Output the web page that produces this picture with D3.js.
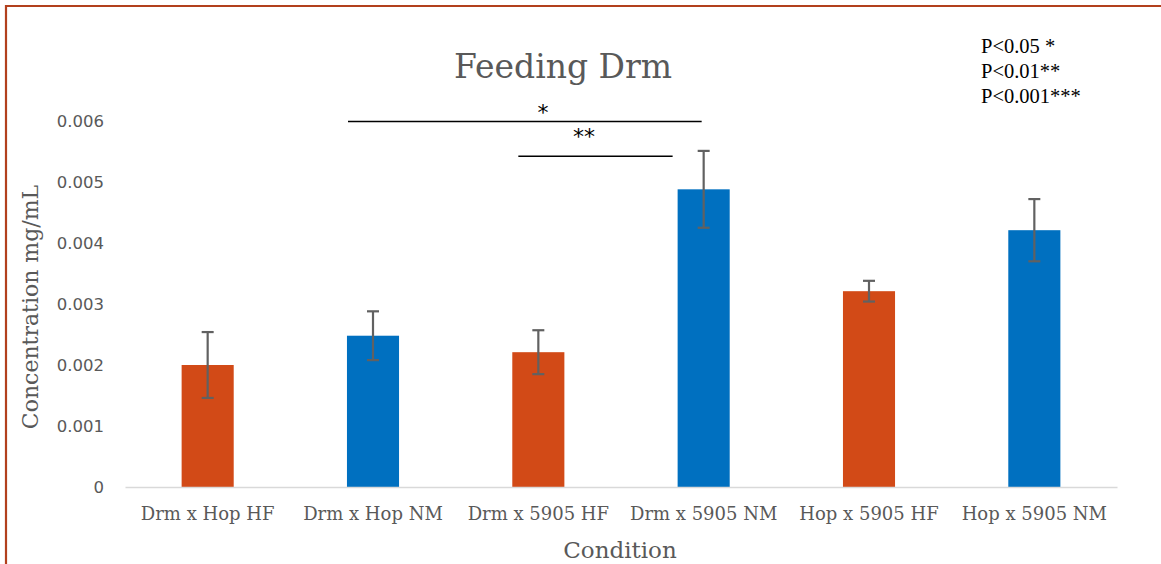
<!DOCTYPE html>
<html>
<head>
<meta charset="utf-8">
<script src="https://cdn.jsdelivr.net/npm/d3@7/dist/d3.min.js"></script>
<style>
  html, body { margin: 0; padding: 0; background: #fff; }
  svg { display: block; }
</style>
</head>
<body>
<svg id="chart" width="1161" height="564"></svg>
<script>
// ---- data ----
const categories = ["Drm x Hop HF", "Drm x Hop NM", "Drm x 5905 HF", "Drm x 5905 NM", "Hop x 5905 HF", "Hop x 5905 NM"];
const values = [0.00200, 0.00248, 0.00221, 0.00488, 0.00321, 0.00421];
const errors = [0.00054, 0.00040, 0.00036, 0.00063, 0.00017, 0.00051];
const groups = ["HF", "NM", "HF", "NM", "HF", "NM"];
const yTicks = [0, 0.001, 0.002, 0.003, 0.004, 0.005, 0.006];
const yTickLabels = ["0", "0.001", "0.002", "0.003", "0.004", "0.005", "0.006"];
const brackets = [
  { from: "Drm x Hop NM", to: "Drm x 5905 NM", level: 0.006, label: "*" },
  { from: "Drm x 5905 HF", to: "Drm x 5905 NM", level: 0.00543, label: "**" }
];
const legendLines = ["P<0.05 *", "P<0.01**", "P<0.001***"];
const title = "Feeding Drm";
const xTitle = "Condition";
const yTitle = "Concentration mg/mL";

// ---- layout ----
const svg = d3.select("#chart");
const W = 1161, H = 564;
const plot = { left: 125, right: 1117, top: 121, bottom: 487 };
const slab = "'DejaVu Serif', serif";
const textGray = "#595959";
const colors = { HF: "#D24A17", NM: "#0070C0" };

svg.append("rect").attr("width", W).attr("height", H).attr("fill", "#fff");

// frame (top and left border)
svg.append("path")
  .attr("d", `M6,${H} L6,6 L${W},6`)
  .attr("fill", "none").attr("stroke", "#B2401D").attr("stroke-width", 2.2);

const x = d3.scaleBand().domain(categories).range([plot.left, plot.right]).paddingInner(0.685).paddingOuter(0.3425);
const y = d3.scaleLinear().domain([0, 0.006]).range([plot.bottom, plot.top]);

// y axis labels
const yAxis = d3.axisLeft(y).tickValues(yTicks).tickFormat((d, i) => yTickLabels[i]).tickSize(0).tickPadding(0);
const gy = svg.append("g").attr("transform", `translate(104,0)`).call(yAxis);
gy.select(".domain").remove();
gy.selectAll("text").attr("font-family", "'DejaVu Sans', sans-serif").attr("font-size", 16.5).attr("fill", textGray);

// bars
svg.append("g").selectAll("rect").data(categories).join("rect")
  .attr("x", d => x(d))
  .attr("width", x.bandwidth())
  .attr("y", (d, i) => y(values[i]))
  .attr("height", (d, i) => y(0) - y(values[i]))
  .attr("fill", (d, i) => colors[groups[i]]);

// x axis
const xAxis = d3.axisBottom(x).tickSize(0).tickPadding(20);
const gx = svg.append("g").attr("transform", `translate(0,${plot.bottom})`).call(xAxis);
gx.select(".domain").attr("stroke", "#d9d9d9").attr("stroke-width", 1.5);
gx.selectAll("text").attr("font-family", slab).attr("font-size", 18).attr("fill", textGray);

// error bars
const eb = svg.append("g").attr("stroke", "#616161").attr("stroke-width", 2.2);
categories.forEach((c, i) => {
  const cx = x(c) + x.bandwidth() / 2;
  const hi = y(values[i] + errors[i]), lo = y(values[i] - errors[i]);
  eb.append("line").attr("x1", cx).attr("x2", cx).attr("y1", hi).attr("y2", lo);
  eb.append("line").attr("x1", cx - 6).attr("x2", cx + 6).attr("y1", hi).attr("y2", hi);
  eb.append("line").attr("x1", cx - 6).attr("x2", cx + 6).attr("y1", lo).attr("y2", lo);
});

// significance brackets
const mid = c => x(c) + x.bandwidth() / 2;
brackets.forEach((b, i) => {
  const x1 = i === 0 ? mid(b.from) - 25 : mid(b.from) - 20;
  const x2 = i === 0 ? mid(b.to) - 2 : x(b.to) - 5;
  const yy = y(b.level) + 0.5;
  svg.append("line").attr("x1", x1).attr("x2", x2).attr("y1", yy).attr("y2", yy)
    .attr("stroke", "#000").attr("stroke-width", 1.5);
  svg.append("text").attr("x", i === 0 ? 543 : 584).attr("y", i === 0 ? yy - 2 : yy - 12)
    .attr("text-anchor", "middle").attr("font-family", "'DejaVu Sans', sans-serif")
    .attr("font-size", 22).attr("fill", "#000").text(b.label);
});

// title
svg.append("text").attr("x", 563).attr("y", 78).attr("text-anchor", "middle")
  .attr("font-family", slab).attr("font-size", 33).attr("fill", textGray).text(title);

// axis titles
svg.append("text").attr("x", 620).attr("y", 558).attr("text-anchor", "middle")
  .attr("font-family", slab).attr("font-size", 23).attr("fill", textGray).text(xTitle);
svg.append("text").attr("transform", "translate(38,307) rotate(-90)").attr("text-anchor", "middle")
  .attr("font-family", slab).attr("font-size", 22).attr("fill", textGray).text(yTitle);

// p-value legend
svg.append("g").selectAll("text").data(legendLines).join("text")
  .attr("x", 981).attr("y", (d, i) => 53 + i * 25)
  .attr("font-family", "'Liberation Serif', 'Times New Roman', serif").attr("font-size", 20.5)
  .attr("fill", "#000").text(d => d);
</script>
</body>
</html>
